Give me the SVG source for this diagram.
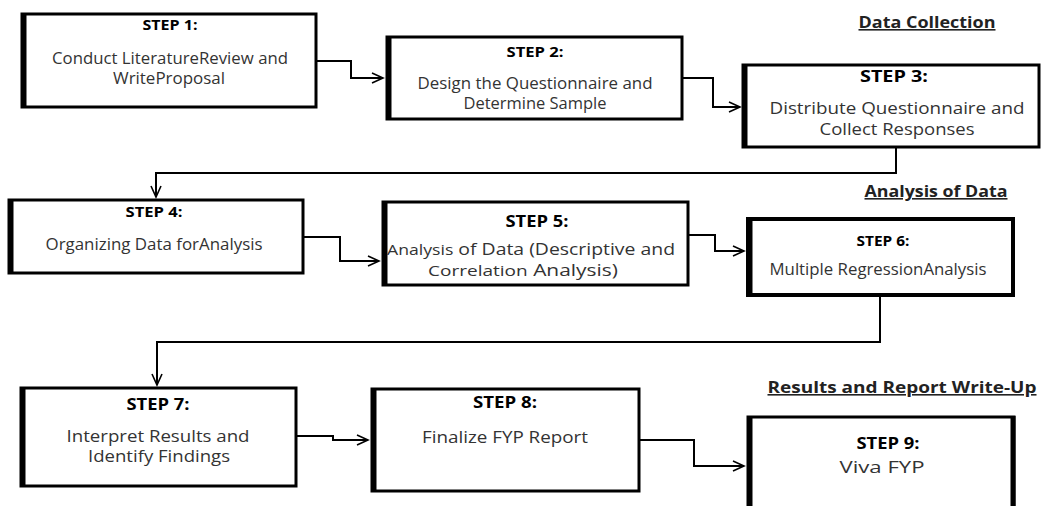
<svg xmlns="http://www.w3.org/2000/svg" width="1041" height="506" viewBox="0 0 1041 506">
<defs>
<marker id="arr" markerUnits="userSpaceOnUse" markerWidth="14" markerHeight="14" refX="12" refY="6" orient="auto">
<path d="M1,1 L12,6 L1,11" fill="none" stroke="#000" stroke-width="1.6"/>
</marker>
<style>
.box{fill:#fff;stroke:#000;stroke-width:3}
.edge{stroke:#000;stroke-width:5}
.step{font-family:"Open Sans","Liberation Sans",sans-serif;font-weight:bold;font-size:15px;fill:#000;text-anchor:middle}
.t{font-family:"Open Sans","Liberation Sans",sans-serif;font-size:15.5px;fill:#333;text-anchor:middle}
.head{font-family:"Open Sans","Liberation Sans",sans-serif;font-weight:bold;font-size:16px;fill:#222;text-anchor:middle;text-decoration:underline}
.conn{fill:none;stroke:#000;stroke-width:2}
</style>
</defs>
<rect width="1041" height="506" fill="#fff"/>
<g id="connectors">
<path class="conn" d="M316,61 H351 V78 H383" marker-end="url(#arr)"/>
<path class="conn" d="M682,78 H713 V107 H740" marker-end="url(#arr)"/>
<path class="conn" d="M896,147 V173 H156 V197" marker-end="url(#arr)"/>
<path class="conn" d="M303,237 H340 V261 H379" marker-end="url(#arr)"/>
<path class="conn" d="M688,235 H715 V251 H744" marker-end="url(#arr)"/>
<path class="conn" d="M880,295 V342 H157 V385" marker-end="url(#arr)"/>
<path class="conn" d="M296,436 H333 V440 H368" marker-end="url(#arr)"/>
<path class="conn" d="M639,440 H694 V466 H744" marker-end="url(#arr)"/>
</g>
<g id="headings">
<text class="head" x="927" y="28" textLength="137" lengthAdjust="spacingAndGlyphs">Data Collection</text>
<text class="head" x="936" y="197" textLength="143" lengthAdjust="spacingAndGlyphs">Analysis of Data</text>
<text class="head" x="902" y="393" textLength="269" lengthAdjust="spacingAndGlyphs">Results and Report Write-Up</text>
</g>
<g id="step1">
<rect class="box" x="22" y="14" width="294" height="93"/><line class="edge" x1="24" y1="13" x2="24" y2="108"/>
<text class="step" x="170" y="30" textLength="55" lengthAdjust="spacingAndGlyphs">STEP 1:</text>
<text class="t" x="170" y="64" textLength="236" lengthAdjust="spacingAndGlyphs">Conduct LiteratureReview and</text>
<text class="t" x="169" y="84" textLength="112" lengthAdjust="spacingAndGlyphs">WriteProposal</text>
</g>
<g id="step2">
<rect class="box" x="387" y="37" width="295" height="82"/><line class="edge" x1="389" y1="36" x2="389" y2="120"/>
<text class="step" x="535" y="57" textLength="57" lengthAdjust="spacingAndGlyphs">STEP 2:</text>
<text class="t" x="535" y="89" textLength="235" lengthAdjust="spacingAndGlyphs">Design the Questionnaire and</text>
<text class="t" x="535" y="109" textLength="143" lengthAdjust="spacingAndGlyphs">Determine Sample</text>
</g>
<g id="step3">
<rect class="box" x="743" y="65" width="296" height="82"/><line class="edge" x1="745" y1="64" x2="745" y2="148"/>
<text class="step" x="894" y="82" style="font-size:16.5px" textLength="68" lengthAdjust="spacingAndGlyphs">STEP 3:</text>
<text class="t" x="897" y="114" style="font-size:16.5px" textLength="255" lengthAdjust="spacingAndGlyphs">Distribute Questionnaire and</text>
<text class="t" x="897" y="135" style="font-size:16.5px" textLength="155" lengthAdjust="spacingAndGlyphs">Collect Responses</text>
</g>
<g id="step4">
<rect class="box" x="9" y="200" width="294" height="73"/><line class="edge" x1="11" y1="199" x2="11" y2="274"/>
<text class="step" x="154" y="217" textLength="57" lengthAdjust="spacingAndGlyphs">STEP 4:</text>
<text class="t" x="154" y="250" textLength="217" lengthAdjust="spacingAndGlyphs">Organizing Data forAnalysis</text>
</g>
<g id="step5">
<rect class="box" x="383" y="202" width="305" height="83"/><line class="edge" x1="385" y1="201" x2="385" y2="286"/>
<text class="step" x="537" y="227" style="font-size:16.5px" textLength="63" lengthAdjust="spacingAndGlyphs">STEP 5:</text>
<text class="t" x="531" y="255" style="font-size:16.5px" textLength="288" lengthAdjust="spacingAndGlyphs"><tspan style="font-size:15px">Analysis</tspan> of Data (Descriptive and</text>
<text class="t" x="523" y="276" style="font-size:16.5px" textLength="190" lengthAdjust="spacingAndGlyphs"><tspan style="font-size:15px">Correlation</tspan> Analysis)</text>
</g>
<g id="step6">
<rect class="box" x="748" y="219" width="265" height="76" style="stroke-width:4"/><line class="edge" x1="750" y1="218" x2="750" y2="296"/>
<text class="step" x="883" y="246" textLength="53" lengthAdjust="spacingAndGlyphs">STEP 6:</text>
<text class="t" x="878" y="275" textLength="217" lengthAdjust="spacingAndGlyphs">Multiple RegressionAnalysis</text>
</g>
<g id="step7">
<rect class="box" x="21" y="388" width="275" height="98"/><line class="edge" x1="23" y1="387" x2="23" y2="487"/>
<text class="step" x="158" y="410" style="font-size:16px" textLength="63" lengthAdjust="spacingAndGlyphs">STEP 7:</text>
<text class="t" x="158" y="442" style="font-size:16px" textLength="183" lengthAdjust="spacingAndGlyphs">Interpret Results and</text>
<text class="t" x="159" y="462" style="font-size:16px" textLength="142" lengthAdjust="spacingAndGlyphs">Identify Findings</text>
</g>
<g id="step8">
<rect class="box" x="372" y="389" width="267" height="102"/><line class="edge" x1="374" y1="388" x2="374" y2="492"/>
<text class="step" x="505" y="408" style="font-size:16px" textLength="64" lengthAdjust="spacingAndGlyphs">STEP 8:</text>
<text class="t" x="505" y="443" style="font-size:16px" textLength="166" lengthAdjust="spacingAndGlyphs">Finalize FYP Report</text>
</g>
<g id="step9">
<rect class="box" x="748" y="417" width="266" height="95"/><line class="edge" x1="750" y1="416" x2="750" y2="512"/><line class="edge" x1="1013" y1="416" x2="1013" y2="512"/>
<text class="step" x="888" y="449" style="font-size:16px" textLength="63" lengthAdjust="spacingAndGlyphs">STEP 9:</text>
<text class="t" x="882" y="473" style="font-size:16px" textLength="85" lengthAdjust="spacingAndGlyphs">Viva FYP</text>
</g>
</svg>
